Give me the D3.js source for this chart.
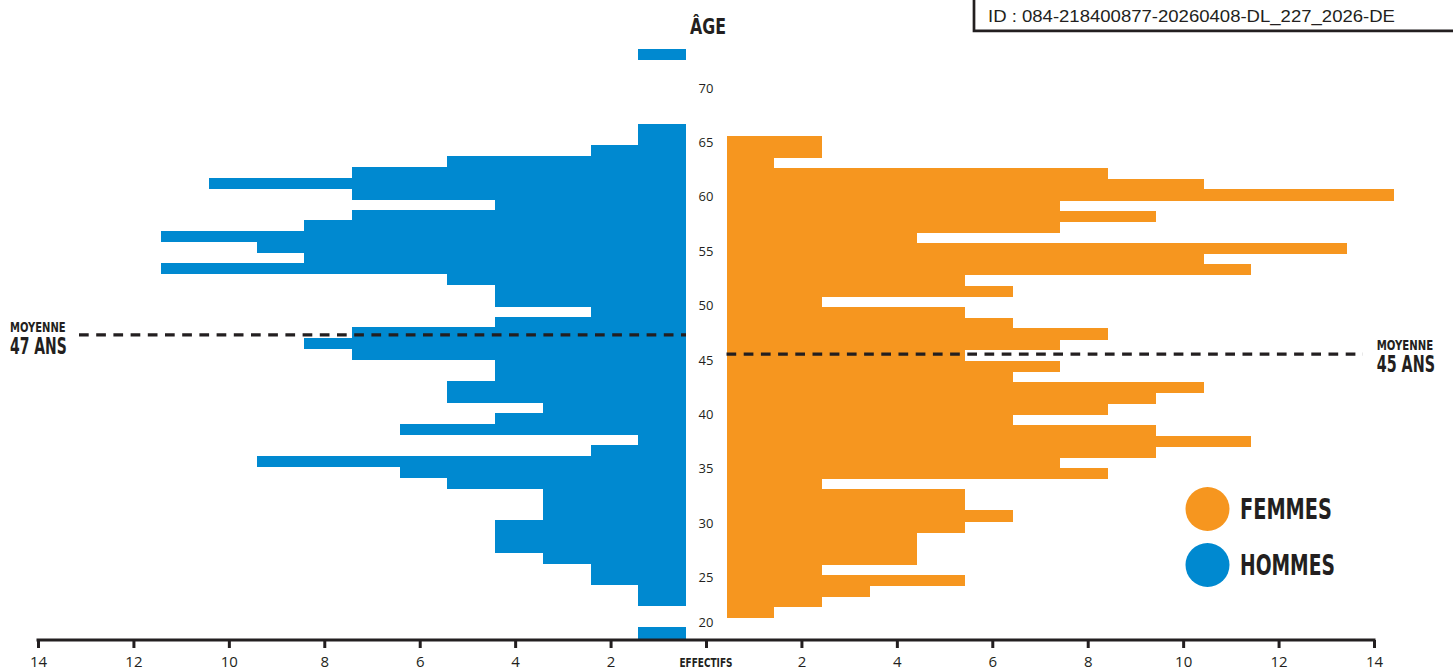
<!DOCTYPE html>
<html><head><meta charset="utf-8">
<script src="https://cdn.jsdelivr.net/npm/d3@7"></script>
<style>body{margin:0;background:#fff}svg{display:block}</style>
</head><body><svg id="c" width="1453" height="672"></svg>
<script>
// ---- DATA ----
const ages = [73,72,71,70,69,68,67,66,65,64,63,62,61,60,59,58,57,56,55,54,53,52,51,50,49,48,47,46,45,44,43,42,41,40,39,38,37,36,35,34,33,32,31,30,29,28,27,26,25,24,23,22,21,20,19];
const hommes = [1,0,0,0,0,0,0,1,1,2,5,7,10,7,4,7,8,11,9,8,11,5,4,4,2,4,7,8,7,4,4,5,5,3,4,6,1,2,9,6,5,3,3,3,4,4,4,3,2,2,1,1,0,0,1];
const femmes = [0,0,0,0,0,0,0,0,2,2,1,8,10,14,7,9,7,4,13,10,11,5,6,2,5,6,8,7,5,7,6,10,9,8,6,9,11,9,7,8,2,5,5,6,5,4,4,4,2,5,3,2,1,0,0];
const ageTicks = [20,25,30,35,40,45,50,55,60,65,70];
const effectifTicks = [2,4,6,8,10,12,14];
const moyenneHommes = 46.8;
const moyenneFemmes = 45.0;
const legendItems = ["FEMMES","HOMMES"];
const idText = "ID : 084-218400877-20260408-DL_227_2026-DE";

// ---- STYLE ----
const BLUE = "#0089d0", ORANGE = "#f6961f", INK = "#231f20";
const COND = "'Liberation Sans Narrow','DejaVu Sans Condensed','Roboto Condensed',sans-serif";
const BODY = "'Open Sans','Noto Sans',sans-serif";

const svg = d3.select("#c");

// ---- SCALES ----
const y = d3.scaleBand().domain(ages).range([49, 638]).padding(0);
const bw = y.bandwidth();
const yAge = d3.scaleLinear().domain([19, 73]).range([y(19) + bw / 2, y(73) + bw / 2]);
const yLabel = d3.scaleLinear().domain([20, 25, 70]).range([622.3, 577.3, 88]);
const xBarH = d3.scaleLinear().domain([0, 14]).range([686, 686 - 14 * 47.71]);
const xBarF = d3.scaleLinear().domain([0, 14]).range([726.5, 726.5 + 14 * 47.71]);
const xAxH = d3.scaleLinear().domain([0, 14]).range([706, 38]);
const xAxF = d3.scaleLinear().domain([0, 14]).range([706, 1374]);

// ---- BARS ----
const rowsH = ages.map((a, i) => ({a, v: hommes[i]})).filter(d => d.v > 0);
const rowsF = ages.map((a, i) => ({a, v: femmes[i]})).filter(d => d.v > 0);

svg.append("g").attr("shape-rendering", "crispEdges").selectAll("rect").data(rowsH).join("rect")
  .attr("x", d => xBarH(d.v)).attr("y", d => y(d.a))
  .attr("width", d => xBarH(0) - xBarH(d.v)).attr("height", bw + 0.6)
  .attr("fill", BLUE);

svg.append("g").attr("shape-rendering", "crispEdges").attr("transform", "translate(0,1)")
  .selectAll("rect").data(rowsF).join("rect")
  .attr("x", xBarF(0)).attr("y", d => y(d.a))
  .attr("width", d => xBarF(d.v) - xBarF(0)).attr("height", bw + 0.6)
  .attr("fill", ORANGE);

// condensed title text fitted to a cap height and width
function condText(parent, x, base, cap, width, txt, anchor) {
  const fs = 20;
  const g = parent.append("g");
  const t = g.append("text").attr("x", 0).attr("y", 0)
    .attr("font-family", COND).attr("font-weight", "bold").attr("font-size", fs)
    .attr("fill", INK).text(txt);
  const w = t.node().getComputedTextLength();
  const sx = width / w, sy = cap / (0.73 * fs);
  const x0 = anchor === "middle" ? x - width / 2 : x;
  g.attr("transform", `translate(${x0},${base}) scale(${sx},${sy})`);
  return g;
}

// ---- AGE LABELS ----
svg.append("g").selectAll("text").data(ageTicks).join("text")
  .attr("x", 706).attr("y", d => yLabel(d)).attr("dy", "0.36em")
  .attr("text-anchor", "middle").attr("font-family", BODY).attr("font-size", 13)
  .attr("fill", INK).text(d => d);

condText(svg, 690, 34.3, 15, 36, "ÂGE");

// ---- MEAN LINES ----
const dash = "9.7,7.5";
svg.append("line").attr("x1", 79).attr("x2", xBarH(0))
  .attr("y1", yAge(moyenneHommes)).attr("y2", yAge(moyenneHommes))
  .attr("stroke", INK).attr("stroke-width", 3.3).attr("stroke-dasharray", dash);
svg.append("line").attr("x1", xBarF(0)).attr("x2", 1363)
  .attr("y1", yAge(moyenneFemmes)).attr("y2", yAge(moyenneFemmes))
  .attr("stroke", INK).attr("stroke-width", 3.3).attr("stroke-dasharray", dash);

condText(svg, 10, 332.2, 10.2, 55.7, "MOYENNE");
condText(svg, 10, 353.5, 16.4, 56.7, Math.round(moyenneHommes) + " ANS");
condText(svg, 1376.7, 349.7, 9.8, 56.6, "MOYENNE");
condText(svg, 1376.7, 371.7, 16.5, 58.3, Math.round(moyenneFemmes) + " ANS");

// ---- BOTTOM AXIS ----
const axY = 640;
const gAx = svg.append("g").attr("transform", `translate(0,${axY})`);
const axL = d3.axisBottom(xAxH).tickValues([0, ...effectifTicks]).tickSize(8).tickSizeOuter(0)
  .tickFormat(d => d === 0 ? "" : d);
const axR = d3.axisBottom(xAxF).tickValues(effectifTicks).tickSize(8).tickSizeOuter(0)
  .tickFormat(d => d);
[axL, axR].forEach(ax => {
  const g = gAx.append("g").call(ax);
  g.select(".domain").remove();
  g.selectAll(".tick line").attr("stroke", INK).attr("stroke-width", 3);
  g.selectAll(".tick text").attr("y", 16).attr("font-family", BODY).attr("font-size", 15).attr("fill", INK);
});
gAx.append("line").attr("x1", xAxH(14) - 1.5).attr("x2", xAxF(14) + 1.5)
  .attr("y1", 0).attr("y2", 0).attr("stroke", INK).attr("stroke-width", 3);
condText(svg, xAxH(0), 667, 9.5, 53, "EFFECTIFS", "middle");

// ---- LEGEND ----
const legColors = {FEMMES: ORANGE, HOMMES: BLUE};
const legWidths = {FEMMES: 92, HOMMES: 95};
legendItems.forEach((d, i) => {
  const cy = 509 + i * 56;
  svg.append("circle").attr("cx", 1207.5).attr("cy", cy).attr("r", 22).attr("fill", legColors[d]);
  condText(svg, 1240, cy + 10, 21, legWidths[d], d);
});

// ---- ID BOX ----
svg.append("path").attr("d", "M974,-2V30.8H1455").attr("fill", "none")
  .attr("stroke", INK).attr("stroke-width", 2.7);
svg.append("text").attr("x", 988).attr("y", 22.3)
  .attr("font-family", "'Liberation Sans',Arial,sans-serif").attr("font-size", 17)
  .attr("textLength", 407).attr("lengthAdjust", "spacingAndGlyphs")
  .attr("fill", INK).text(idText);
</script>
</body></html>
